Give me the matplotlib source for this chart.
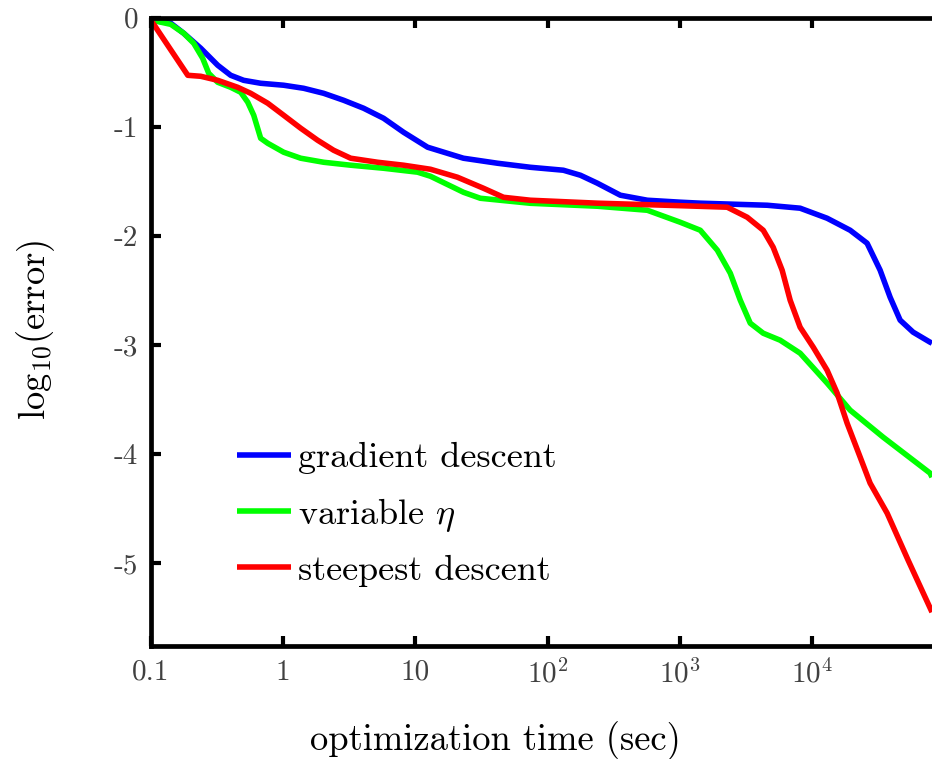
import matplotlib
matplotlib.use("Agg")
import matplotlib.pyplot as plt

plt.rcParams['font.family'] = 'cmr10'
plt.rcParams['mathtext.fontset'] = 'cm'
plt.rcParams['axes.unicode_minus'] = False
plt.rcParams['axes.formatter.use_mathtext'] = True

# gradient descent
gd_t = [0.1, 0.1416, 0.1775, 0.2386, 0.3206, 0.4018, 0.5036, 0.6771, 1.010, 1.431, 2.026,
        2.871, 4.064, 5.754, 8.147, 12.37, 23.1, 41.8, 74.1, 131.5, 177, 237.7, 354.6, 567.5,
        1007, 1426, 4571, 8110, 12970, 19370, 26020, 32640, 38840, 46240, 57940, 77840, 80540]
gd_e = [-0.02, -0.050, -0.142, -0.279, -0.435, -0.527, -0.573, -0.600, -0.618, -0.646, -0.692,
        -0.756, -0.829, -0.921, -1.049, -1.186, -1.287, -1.333, -1.370, -1.397, -1.443, -1.516, -1.626, -1.672,
        -1.690, -1.699, -1.718, -1.745, -1.837, -1.947, -2.066, -2.313, -2.561, -2.771, -2.881, -2.973, -2.982]

# variable eta
ve_t = [0.1, 0.1416, 0.1775, 0.2113, 0.2467, 0.2742, 0.3206, 0.4018, 0.4786, 0.5408, 0.600,
        0.6771, 0.7657, 1.010, 1.359, 2.026, 3.243, 5.754, 10.40, 13.0, 23.1, 31.0, 74.1, 237.7,
        567.5, 1007, 1426, 1919, 2405, 2860, 3404, 4266, 5730, 8110, 12970, 19370, 34360, 77840, 80540]
ve_e = [-0.02, -0.060, -0.142, -0.234, -0.371, -0.509, -0.591, -0.637, -0.683, -0.774, -0.893,
        -1.104, -1.150, -1.232, -1.287, -1.324, -1.351, -1.379, -1.415, -1.452, -1.599, -1.654, -1.700, -1.727,
        -1.764, -1.874, -1.947, -2.130, -2.341, -2.588, -2.799, -2.891, -2.955, -3.074, -3.348, -3.596, -3.843, -4.173, -4.210]

# steepest descent
sd_t = [0.1, 0.1904, 0.2386, 0.3206, 0.4539, 0.5690, 0.7657, 1.010, 1.359, 1.824, 2.411,
        3.243, 5.188, 8.147, 13.0, 20.8, 32.7, 46.4, 74.1, 237.7, 1007, 2280, 3229, 4266,
        5073, 5933, 6820, 8110, 10190, 12970, 15450, 18370, 23070, 27420, 36880, 53090, 80540]
sd_e = [-0.02, -0.527, -0.536, -0.573, -0.637, -0.692, -0.783, -0.893, -1.012, -1.122, -1.214,
        -1.287, -1.324, -1.351, -1.388, -1.461, -1.562, -1.645, -1.672, -1.699, -1.722, -1.736, -1.828, -1.947,
        -2.103, -2.314, -2.589, -2.836, -3.019, -3.230, -3.440, -3.715, -4.027, -4.265, -4.540, -4.970, -5.447]

series_labels = ['gradient descent', r'variable $\eta$', 'steepest descent']
series_colors = ['#0000ff', '#00ff00', '#ff0000']

xticks = [0.1, 1, 10, 100, 1000, 10000]
xticklabels = ['0.1', '1', '10', r'$10^2$', r'$10^3$', r'$10^4$']
yticks = [0, -1, -2, -3, -4, -5]
yticklabels = ['0', '-1', '-2', '-3', '-4', '-5']

fig = plt.figure(figsize=(9.32, 7.59), dpi=100)
ax = fig.add_axes([150.8 / 932, (759 - 645.5) / 759, (932 - 150.8) / 932, (645.5 - 17.8) / 759])

for t, e, lab, c in zip([gd_t, ve_t, sd_t], [gd_e, ve_e, sd_e], series_labels, series_colors):
    ax.plot(t, e, color=c, lw=4.0, label=lab, solid_joinstyle='round', solid_capstyle='butt')

ax.set_xscale('log')
ax.set_xlim(0.1, 80540)
ax.set_ylim(-5.753, 0)
ax.set_xticks(xticks)
ax.set_xticklabels(xticklabels)
ax.set_yticks(yticks)
ax.set_yticklabels(yticklabels)
ax.minorticks_off()

for s in ['left', 'bottom', 'top']:
    ax.spines[s].set_linewidth(3.4)
ax.spines['right'].set_visible(False)
ax.tick_params(axis='both', direction='in', length=7, width=3.0, labelsize=21,
               labelcolor='#404040', top=True, right=False)
ax.tick_params(axis='x', pad=10)
ax.tick_params(axis='y', pad=9)

ax.set_xlabel('optimization time (sec)', fontsize=26.3)
ax.xaxis.set_label_coords((495 - 150.8) / 781.2, -(721 - 645.5) / 627.7)
ax.set_ylabel(r'$\mathrm{log}_{10}(\mathrm{error})$', fontsize=26.3)
ax.yaxis.set_label_coords((57 - 150.8) / 781.2, (645.5 - 330) / 627.7)

leg = ax.legend(loc='upper left', bbox_to_anchor=((237 - 150.8) / 781.2, (645.5 - 442) / 627.7),
                frameon=False, fontsize=26, handlelength=1.5, handletextpad=0.2,
                labelspacing=0.59, borderaxespad=0, borderpad=0)

fig.savefig('out.png', dpi=100)
